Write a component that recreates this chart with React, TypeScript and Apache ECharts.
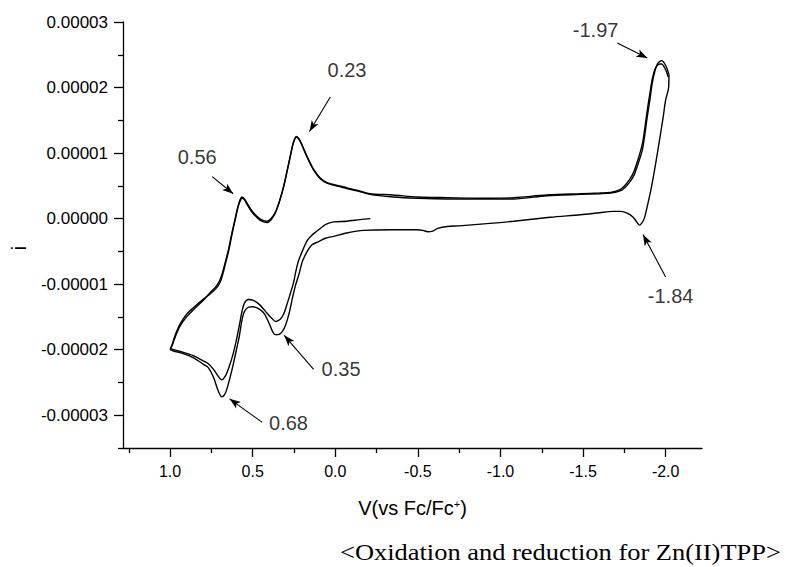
import React, { useEffect, useRef } from 'react';
import * as echarts from 'echarts';

const W = 787;
const H = 567;

// Axis ticks
const xMajor = [1.0, 0.5, 0.0, -0.5, -1.0, -1.5, -2.0];
const xMinor = [1.25, 0.75, 0.25, -0.25, -0.75, -1.25, -1.75];
const yMajor = [-3e-5, -2e-5, -1e-5, 0, 1e-5, 2e-5, 3e-5];
const yMinor = [-3.5e-5, -2.5e-5, -1.5e-5, -0.5e-5, 0.5e-5, 1.5e-5, 2.5e-5];

// First sweep: start at -0.21 V towards +1.0 V
const firstSweep: number[][] = [
  [-0.212, 0.0], [-0.15, -0.015e-5], [-0.07, -0.04e-5], [0.01, -0.05e-5], [0.06, -0.09e-5],
  [0.091, -0.15e-5], [0.111, -0.19e-5], [0.145, -0.26e-5], [0.171, -0.34e-5], [0.2, -0.5e-5],
  [0.222, -0.64e-5], [0.24, -0.82e-5], [0.253, -0.98e-5], [0.273, -1.15e-5], [0.295, -1.33e-5],
  [0.313, -1.46e-5], [0.335, -1.54e-5], [0.36, -1.57e-5], [0.385, -1.52e-5], [0.414, -1.44e-5],
  [0.455, -1.32e-5], [0.49, -1.255e-5], [0.525, -1.235e-5], [0.55, -1.29e-5], [0.565, -1.42e-5],
  [0.58, -1.62e-5], [0.6, -1.87e-5], [0.62, -2.08e-5], [0.645, -2.28e-5], [0.665, -2.4e-5],
  [0.687, -2.46e-5], [0.71, -2.4e-5], [0.737, -2.3e-5], [0.77, -2.21e-5], [0.8, -2.17e-5],
  [0.86, -2.09e-5], [0.92, -2.04e-5], [0.98, -2.0e-5], [1.0, -1.98e-5],
];

// Reverse sweep 1: +1.0 V to -2.02 V
const upperSweep1: number[][] = [
  [1.0, -1.98e-5], [0.99, -1.95e-5], [0.975, -1.85e-5], [0.96, -1.75e-5], [0.94, -1.64e-5],
  [0.9, -1.5e-5], [0.859, -1.39e-5], [0.8, -1.25e-5], [0.758, -1.13e-5], [0.72, -1.03e-5],
  [0.697, -0.93e-5], [0.68, -0.8e-5], [0.667, -0.675e-5], [0.646, -0.47e-5], [0.626, -0.22e-5],
  [0.606, 0.0], [0.59, 0.18e-5], [0.576, 0.29e-5], [0.565, 0.33e-5], [0.55, 0.3e-5],
  [0.535, 0.24e-5], [0.505, 0.12e-5], [0.475, 0.035e-5], [0.445, -0.02e-5], [0.414, -0.04e-5],
  [0.39, 0.0], [0.364, 0.09e-5], [0.34, 0.25e-5], [0.313, 0.49e-5], [0.29, 0.75e-5],
  [0.273, 0.95e-5], [0.255, 1.15e-5], [0.236, 1.255e-5], [0.22, 1.22e-5], [0.202, 1.13e-5],
  [0.171, 0.95e-5], [0.131, 0.75e-5], [0.091, 0.62e-5], [0.05, 0.55e-5], [0.01, 0.52e-5],
  [-0.071, 0.47e-5], [-0.152, 0.42e-5], [-0.21, 0.37e-5], [-0.35, 0.33e-5], [-0.5, 0.31e-5],
  [-0.677, 0.3e-5], [-0.94, 0.3e-5], [-1.08, 0.3e-5], [-1.28, 0.35e-5], [-1.485, 0.37e-5],
  [-1.6, 0.38e-5], [-1.667, 0.39e-5], [-1.72, 0.42e-5], [-1.747, 0.46e-5], [-1.78, 0.55e-5],
  [-1.808, 0.66e-5], [-1.835, 0.85e-5], [-1.859, 1.05e-5], [-1.875, 1.3e-5], [-1.889, 1.56e-5],
  [-1.905, 1.82e-5], [-1.919, 2.07e-5], [-1.935, 2.25e-5], [-1.95, 2.36e-5], [-1.965, 2.4e-5],
  [-1.976, 2.41e-5], [-1.99, 2.38e-5], [-2.005, 2.31e-5], [-2.02, 2.2e-5],
];

// Forward sweep 2: -2.02 V back to +1.0 V
const returnSweep: number[][] = [
  [-2.02, 2.2e-5], [-2.018, 2.0e-5], [-2.0, 1.81e-5], [-1.985, 1.55e-5], [-1.97, 1.31e-5],
  [-1.95, 1.0e-5], [-1.93, 0.7e-5], [-1.91, 0.43e-5], [-1.889, 0.19e-5], [-1.87, 0.0],
  [-1.855, -0.07e-5], [-1.842, -0.1e-5], [-1.825, -0.05e-5], [-1.8, 0.03e-5], [-1.77, 0.08e-5],
  [-1.73, 0.11e-5], [-1.68, 0.11e-5], [-1.6, 0.09e-5], [-1.485, 0.06e-5], [-1.3, 0.02e-5],
  [-1.08, -0.04e-5], [-0.9, -0.08e-5], [-0.75, -0.11e-5], [-0.677, -0.12e-5], [-0.62, -0.15e-5],
  [-0.59, -0.19e-5], [-0.56, -0.2e-5], [-0.53, -0.18e-5], [-0.495, -0.17e-5], [-0.35, -0.17e-5],
  [-0.17, -0.18e-5], [-0.07, -0.22e-5], [0.01, -0.27e-5], [0.06, -0.3e-5], [0.1, -0.35e-5],
  [0.141, -0.4e-5], [0.17, -0.5e-5], [0.19, -0.6e-5], [0.202, -0.675e-5], [0.22, -0.85e-5],
  [0.242, -1.03e-5], [0.26, -1.22e-5], [0.28, -1.45e-5], [0.3, -1.62e-5], [0.32, -1.72e-5],
  [0.345, -1.77e-5], [0.364, -1.77e-5], [0.38, -1.72e-5], [0.4, -1.6e-5], [0.43, -1.45e-5],
  [0.46, -1.38e-5], [0.5, -1.345e-5], [0.525, -1.35e-5], [0.55, -1.42e-5], [0.565, -1.55e-5],
  [0.58, -1.78e-5], [0.6, -2.02e-5], [0.62, -2.25e-5], [0.645, -2.5e-5], [0.665, -2.66e-5],
  [0.687, -2.72e-5], [0.71, -2.62e-5], [0.737, -2.42e-5], [0.77, -2.27e-5], [0.8, -2.22e-5],
  [0.86, -2.12e-5], [0.92, -2.06e-5], [0.98, -2.02e-5], [1.0, -2.0e-5],
];

// Reverse sweep 2: +1.0 V to -2.02 V
const upperSweep2: number[][] = [
  [1.0, -2.0e-5], [0.99, -1.94e-5], [0.975, -1.82e-5], [0.96, -1.72e-5], [0.94, -1.61e-5],
  [0.9, -1.46e-5], [0.859, -1.36e-5], [0.8, -1.23e-5], [0.758, -1.15e-5], [0.72, -1.06e-5],
  [0.697, -0.97e-5], [0.68, -0.84e-5], [0.667, -0.71e-5], [0.646, -0.5e-5], [0.626, -0.25e-5],
  [0.606, -0.02e-5], [0.59, 0.16e-5], [0.576, 0.27e-5], [0.565, 0.31e-5], [0.55, 0.29e-5],
  [0.535, 0.22e-5], [0.505, 0.1e-5], [0.475, 0.02e-5], [0.445, -0.04e-5], [0.414, -0.06e-5],
  [0.39, -0.02e-5], [0.364, 0.08e-5], [0.34, 0.24e-5], [0.313, 0.48e-5], [0.29, 0.74e-5],
  [0.273, 0.94e-5], [0.255, 1.14e-5], [0.236, 1.245e-5], [0.22, 1.21e-5], [0.202, 1.12e-5],
  [0.171, 0.94e-5], [0.131, 0.74e-5], [0.091, 0.61e-5], [0.05, 0.54e-5], [0.01, 0.51e-5],
  [-0.071, 0.46e-5], [-0.152, 0.41e-5], [-0.21, 0.38e-5], [-0.35, 0.36e-5], [-0.5, 0.33e-5],
  [-0.677, 0.32e-5], [-0.94, 0.31e-5], [-1.08, 0.32e-5], [-1.28, 0.36e-5], [-1.485, 0.38e-5],
  [-1.6, 0.39e-5], [-1.667, 0.4e-5], [-1.72, 0.44e-5], [-1.747, 0.49e-5], [-1.78, 0.59e-5],
  [-1.808, 0.72e-5], [-1.835, 0.92e-5], [-1.859, 1.14e-5], [-1.875, 1.4e-5], [-1.889, 1.66e-5],
  [-1.905, 1.92e-5], [-1.919, 2.13e-5], [-1.935, 2.28e-5], [-1.95, 2.34e-5], [-1.965, 2.36e-5],
  [-1.976, 2.36e-5], [-1.99, 2.32e-5], [-2.005, 2.24e-5], [-2.015, 2.16e-5],
];

// Peak annotations
const peakLabels = ['0.56', '0.23', '-1.97', '-1.84', '0.35', '0.68'];
const labelPos: number[][] = [
  [0.836, 0.945e-5], [-0.071, 2.26e-5], [-1.576, 2.875e-5],
  [-2.03, -1.18e-5], [-0.035, -2.29e-5], [0.283, -3.125e-5],
];
const arrowFrom: number[][] = [
  [0.745, 0.64e-5], [0.03, 1.855e-5], [-1.707, 2.68e-5],
  [-2.0, -0.89e-5], [0.131, -2.3e-5], [0.444, -3.105e-5],
];
const arrowTo: number[][] = [
  [0.618, 0.38e-5], [0.156, 1.33e-5], [-1.889, 2.45e-5],
  [-1.863, -0.244e-5], [0.309, -1.78e-5], [0.64, -2.75e-5],
];

const FONT = '"Liberation Sans", Arial, sans-serif';
const SERIF = '"Liberation Serif", "Times New Roman", serif';

export default function App() {
  const ref = useRef<HTMLDivElement>(null);

  useEffect(() => {
    if (!ref.current) return;
    const chart = echarts.init(ref.current, null, { renderer: 'svg', width: W, height: H });

    const lineSeries = (data: number[][]) => ({
      type: 'line',
      data,
      xAxisIndex: 0,
      yAxisIndex: 0,
      showSymbol: false,
      symbol: 'none',
      smooth: 0.3,
      lineStyle: { color: '#000', width: 1.4 },
      silent: true,
    });

    const axisColor = '#000';

    chart.setOption({
      animation: false,
      backgroundColor: '#fff',
      textStyle: { fontFamily: FONT, color: '#000' },
      grid: { left: 123, right: 85, top: 22, bottom: 119, containLabel: false, outerBoundsMode: 'none' },
      xAxis: [
        {
          type: 'value',
          min: -2.22,
          max: 1.285,
          inverse: true,
          position: 'bottom',
          axisLine: { show: true, onZero: false, lineStyle: { color: axisColor, width: 1.3 } },
          axisTick: { show: true, customValues: xMajor, length: 9, lineStyle: { color: axisColor, width: 1.3 } },
          axisLabel: {
            customValues: xMajor,
            formatter: (v: number) => v.toFixed(1),
            fontSize: 16,
            color: '#000',
            margin: 15,
            fontFamily: FONT,
          },
          splitLine: { show: false },
          name: '{n|V(vs Fc/Fc}{s|+}{n|)}',
          nameLocation: 'middle',
          nameGap: 50,
          nameTextStyle: {
            rich: {
              n: { fontSize: 20, color: '#000', fontFamily: FONT },
              s: { fontSize: 11, color: '#000', fontFamily: FONT, verticalAlign: 'top' },
            },
          },
        },
        {
          type: 'value',
          min: -2.22,
          max: 1.285,
          inverse: true,
          position: 'bottom',
          axisLine: { show: false, onZero: false },
          axisTick: { show: true, customValues: xMinor, length: 5, lineStyle: { color: axisColor, width: 1.3 } },
          axisLabel: { show: false },
          splitLine: { show: false },
        },
      ],
      yAxis: [
        {
          type: 'value',
          min: -3.5e-5,
          max: 3e-5,
          position: 'left',
          axisLine: { show: true, onZero: false, lineStyle: { color: axisColor, width: 1.3 } },
          axisTick: { show: true, customValues: yMajor, length: 9, lineStyle: { color: axisColor, width: 1.3 } },
          axisLabel: {
            customValues: yMajor,
            formatter: (v: number) => v.toFixed(5),
            fontSize: 17,
            color: '#000',
            margin: 15,
            fontFamily: FONT,
          },
          splitLine: { show: false },
        },
        {
          type: 'value',
          min: -3.5e-5,
          max: 3e-5,
          position: 'left',
          axisLine: { show: false, onZero: false },
          axisTick: { show: true, customValues: yMinor, length: 5, lineStyle: { color: axisColor, width: 1.3 } },
          axisLabel: { show: false },
          splitLine: { show: false },
        },
      ],
      series: [
        lineSeries(firstSweep),
        lineSeries(upperSweep1),
        lineSeries(returnSweep),
        lineSeries(upperSweep2),
        {
          type: 'scatter',
          xAxisIndex: 0,
          yAxisIndex: 0,
          symbol: 'circle',
          symbolSize: 1,
          itemStyle: { color: 'rgba(0,0,0,0)' },
          silent: true,
          data: labelPos.map((p, k) => ({ value: p, name: peakLabels[k] })),
          label: {
            show: true,
            position: 'inside',
            formatter: '{b}',
            fontSize: 20,
            color: '#000',
            fontFamily: FONT,
          },
          markLine: {
            silent: true,
            symbol: ['none', 'arrow'],
            symbolSize: [6, 11],
            precision: 6,
            label: { show: false },
            lineStyle: { color: '#000', width: 1.1, type: 'solid' },
            data: arrowFrom.map((f, k) => [{ coord: f }, { coord: arrowTo[k] }]),
          },
        },
      ],
      graphic: [
        {
          type: 'text',
          x: 19,
          y: 248,
          rotation: Math.PI / 2,
          style: { text: 'i', fontSize: 20, fontFamily: FONT, fill: '#000', align: 'center', verticalAlign: 'middle' },
        },
        {
          type: 'text',
          x: 340,
          y: 552,
          scaleX: 1.15,
          style: {
            text: '<Oxidation and reduction for Zn(II)TPP>',
            fontSize: 23,
            fontFamily: SERIF,
            fill: '#000',
            align: 'left',
            verticalAlign: 'middle',
          },
        },
      ],
    });

    return () => chart.dispose();
  }, []);

  return (
    <div
      ref={ref}
      style={{ position: 'fixed', left: 0, top: 0, width: W, height: H, background: '#fff' }}
    />
  );
}
